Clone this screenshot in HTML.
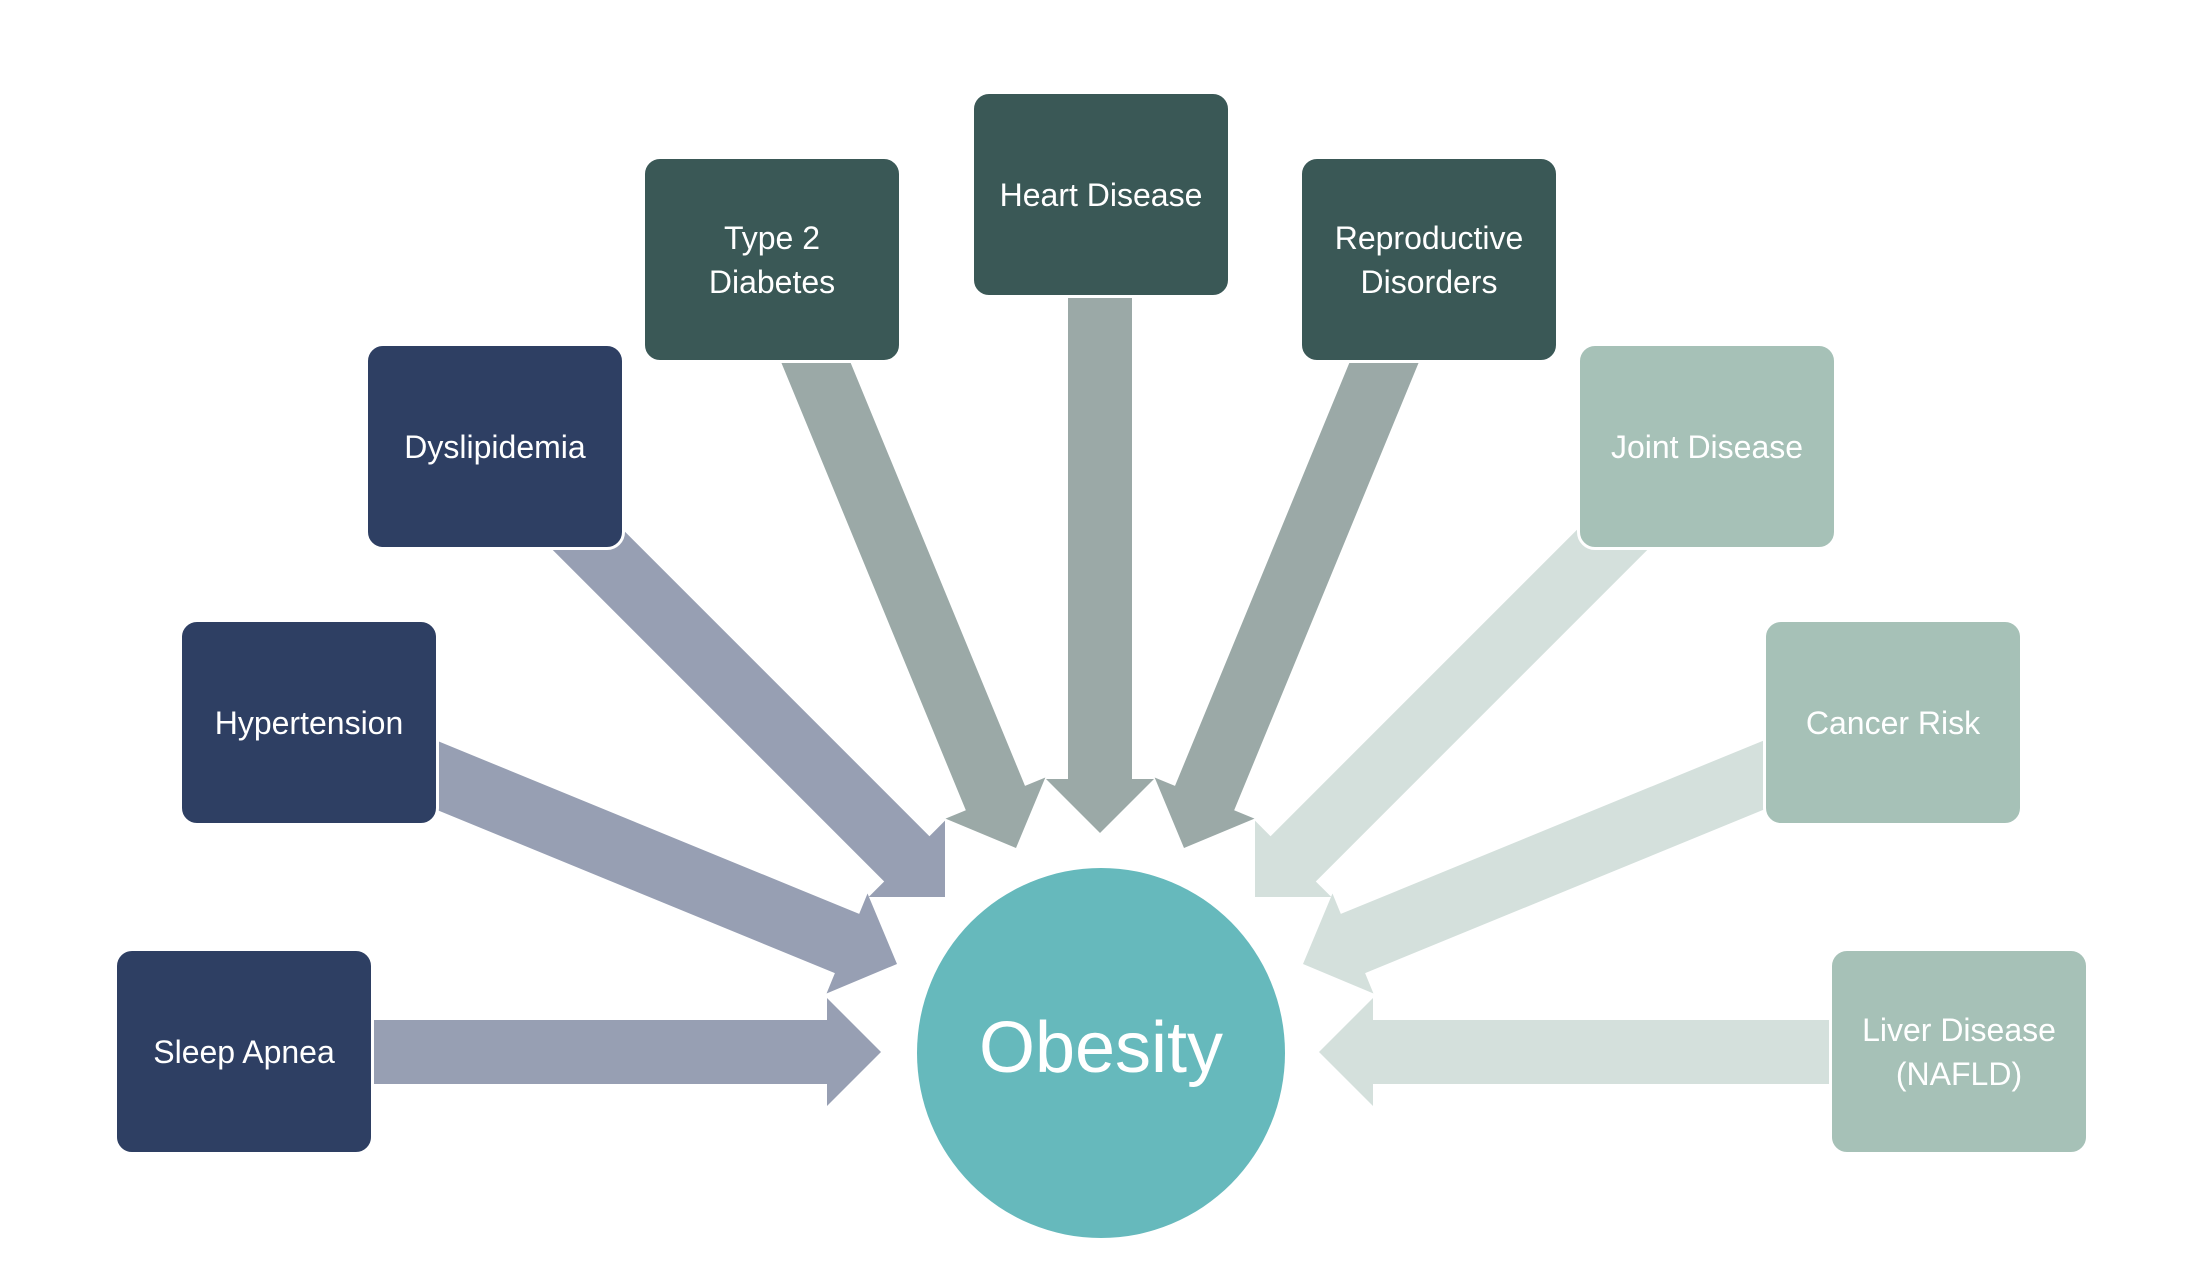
<!DOCTYPE html>
<html><head><meta charset="utf-8"><style>
html,body{margin:0;padding:0;background:#fff;}
#c{position:relative;width:2192px;height:1270px;overflow:hidden;font-family:"Liberation Sans",sans-serif;}
.b{position:absolute;width:260px;height:207px;border-radius:18px;box-sizing:border-box;border:3px solid #fff;display:flex;align-items:center;justify-content:center;text-align:center;color:#fff;font-size:32px;line-height:44px;}
.n{background:#2e3f63}.t{background:#3a5856}.l{background:#a6c1b7}
svg{position:absolute;left:0;top:0}
</style></head><body><div id="c">
<svg width="2192" height="1270">
<defs><polygon id="a" points="-54,-54 0,0 -54,54 -54,32 -560,32 -560,-32 -54,-32"/></defs>
<g fill="#979fb3">
<use href="#a" transform="translate(881,1052) rotate(0)"/>
<use href="#a" transform="translate(897,964) rotate(22.3)"/>
<use href="#a" transform="translate(945,897) rotate(45)"/>
</g>
<g fill="#9ba9a7">
<use href="#a" transform="translate(1016,848) rotate(67.6)"/>
<use href="#a" transform="translate(1100,833) rotate(90)"/>
<use href="#a" transform="translate(1184,848) rotate(112.4)"/>
</g>
<g fill="#d4e0dc">
<use href="#a" transform="translate(1255,897) rotate(135)"/>
<use href="#a" transform="translate(1303,964) rotate(157.7)"/>
<use href="#a" transform="translate(1319,1052) rotate(180)"/>
</g>
<ellipse cx="1101" cy="1053" rx="184" ry="185" fill="#66b9bc"/>
<text x="1101" y="1053" text-anchor="middle" dominant-baseline="middle" fill="#fff" font-family="Liberation Sans, sans-serif" font-size="72">Obesity</text>
</svg>
<div class="b n" style="left:114px;top:948px">Sleep Apnea</div>
<div class="b n" style="left:179px;top:619px">Hypertension</div>
<div class="b n" style="left:365px;top:343px">Dyslipidemia</div>
<div class="b t" style="left:642px;top:156px">Type 2<br>Diabetes</div>
<div class="b t" style="left:971px;top:91px">Heart Disease</div>
<div class="b t" style="left:1299px;top:156px">Reproductive<br>Disorders</div>
<div class="b l" style="left:1577px;top:343px">Joint Disease</div>
<div class="b l" style="left:1763px;top:619px">Cancer Risk</div>
<div class="b l" style="left:1829px;top:948px">Liver Disease<br>(NAFLD)</div>
</div></body></html>
